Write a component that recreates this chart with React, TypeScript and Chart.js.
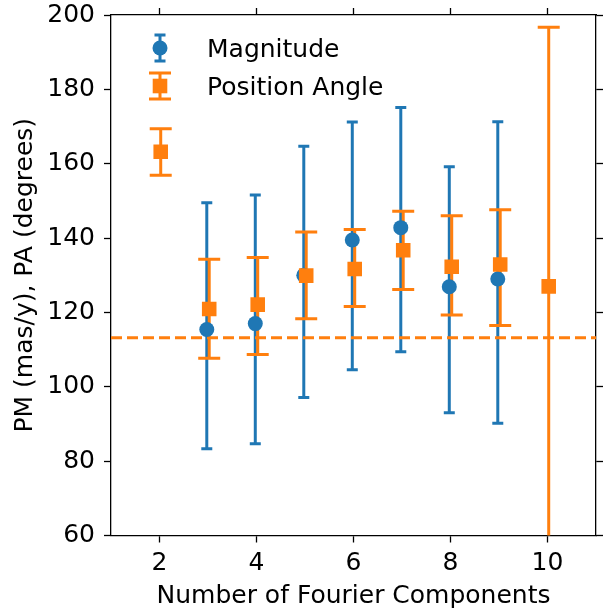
import { useEffect, useRef } from "react";
import { Chart, registerables } from "chart.js";

Chart.register(...registerables);

// ---- data ----
const MAG_X = [3, 4, 5, 6, 7, 8, 9];
const MAG = [115.4, 117.0, 130.0, 139.5, 142.8, 126.9, 129.0];
const MAG_LO = [83.3, 84.7, 97.1, 104.6, 109.4, 93.0, 90.2];
const MAG_HI = [149.5, 151.6, 164.7, 171.2, 175.1, 159.2, 171.3];

const PA_X = [2, 3, 4, 5, 6, 7, 8, 9, 10];
const PA = [163.2, 120.9, 122.1, 129.9, 131.7, 136.7, 132.3, 132.9, 127.0];
const PA_LO = [156.9, 107.7, 108.7, 118.3, 121.6, 126.2, 119.3, 116.5, 57.4];
const PA_HI = [169.4, 134.3, 134.8, 141.6, 142.3, 147.2, 146.0, 147.6, 196.7];

const REF_LINE = 113.2;

const X_MIN = 1;
const X_MAX = 11;
const X_TICKS = [2, 4, 6, 8, 10];
const Y_MIN = 60;
const Y_MAX = 200;
const Y_STEP = 20;

const LABELS = ["Magnitude", "Position Angle"];
const X_TITLE = "Number of Fourier Components";
const Y_TITLE = "PM (mas/y), PA (degrees)";

// ---- styles ----
const BLUE = "#1f77b4";
const ORANGE = "#ff7f0e";
const FONT = "'DejaVu Sans', 'Bitstream Vera Sans', sans-serif";
const DODGE = 0.025;

export default function App() {
  const ref = useRef<HTMLCanvasElement>(null);

  useEffect(() => {
    if (!ref.current) return;

    const series = [
      { x: MAG_X, lo: MAG_LO, hi: MAG_HI, color: BLUE, cap: 5.5, dx: -DODGE },
      { x: PA_X, lo: PA_LO, hi: PA_HI, color: ORANGE, cap: 11, dx: DODGE },
    ];

    const errorBars = {
      id: "errorBars",
      beforeDatasetsDraw(chart: any) {
        const { ctx, chartArea: a, scales } = chart;
        const xs = scales.x;
        const ys = scales.y;
        ctx.save();
        ctx.beginPath();
        ctx.rect(a.left, a.top, a.right - a.left, a.bottom - a.top);
        ctx.clip();
        ctx.lineWidth = 3;
        ctx.lineCap = "butt";
        for (const s of series) {
          ctx.strokeStyle = s.color;
          s.x.forEach((xv: number, i: number) => {
            const px = xs.getPixelForValue(xv + s.dx);
            const pl = ys.getPixelForValue(s.lo[i]);
            const ph = ys.getPixelForValue(s.hi[i]);
            ctx.beginPath();
            ctx.moveTo(px, pl);
            ctx.lineTo(px, ph);
            ctx.moveTo(px - s.cap, pl);
            ctx.lineTo(px + s.cap, pl);
            ctx.moveTo(px - s.cap, ph);
            ctx.lineTo(px + s.cap, ph);
            ctx.stroke();
          });
        }
        ctx.restore();
      },
    };

    const legendItems = [
      { label: LABELS[0], color: BLUE, cap: 5.5, style: "circle" },
      { label: LABELS[1], color: ORANGE, cap: 11, style: "rect" },
    ];

    const customLegend = {
      id: "customLegend",
      afterDraw(chart: any) {
        const { ctx, chartArea: a } = chart;
        ctx.save();
        legendItems.forEach((it, i) => {
          const cx = a.left + 49;
          const cy = a.top + 33 + i * 38;
          ctx.strokeStyle = it.color;
          ctx.fillStyle = it.color;
          ctx.lineWidth = 3;
          ctx.beginPath();
          ctx.moveTo(cx, cy - 13);
          ctx.lineTo(cx, cy + 13);
          ctx.moveTo(cx - it.cap, cy - 13);
          ctx.lineTo(cx + it.cap, cy - 13);
          ctx.moveTo(cx - it.cap, cy + 13);
          ctx.lineTo(cx + it.cap, cy + 13);
          ctx.stroke();
          ctx.beginPath();
          if (it.style === "circle") {
            ctx.arc(cx, cy, 7.5, 0, Math.PI * 2);
          } else {
            ctx.rect(cx - 7.3, cy - 7.3, 14.6, 14.6);
          }
          ctx.fill();
          ctx.fillStyle = "#000";
          ctx.font = `25px ${FONT}`;
          ctx.textAlign = "left";
          ctx.textBaseline = "alphabetic";
          ctx.fillText(it.label, a.left + 96, cy + 9);
        });
        ctx.restore();
      },
    };

    const gridCfg = {
      display: true,
      drawOnChartArea: false,
      drawTicks: true,
      tickLength: 7,
      tickWidth: 1.3,
      color: "#000",
      tickColor: "#000",
    };
    const borderCfg = { display: true, color: "#000", width: 1.3 };
    const tickFont = { family: FONT, size: 25 };
    const setXTicks = (s: any) => {
      s.ticks = X_TICKS.map((v) => ({ value: v }));
    };
    const fixSize = (prop: "width" | "height", v: number) => (s: any) => {
      s[prop] = v;
      s.paddingTop = 0;
      s.paddingBottom = 0;
      s.paddingLeft = 0;
      s.paddingRight = 0;
    };

    const chart = new Chart(ref.current, {
      type: "scatter",
      data: {
        datasets: [
          {
            label: LABELS[0],
            data: MAG_X.map((x, i) => ({ x: x - DODGE, y: MAG[i] })),
            pointStyle: "circle",
            pointRadius: 7.5,
            pointBackgroundColor: BLUE,
            pointBorderWidth: 0,
            order: 2,
          },
          {
            label: LABELS[1],
            data: PA_X.map((x, i) => ({ x: x + DODGE, y: PA[i] })),
            pointStyle: "rect",
            pointRadius: 10.3,
            pointBackgroundColor: ORANGE,
            pointBorderWidth: 0,
            order: 1,
          },
          {
            label: "ref",
            data: [
              { x: X_MIN, y: REF_LINE },
              { x: X_MAX, y: REF_LINE },
            ],
            showLine: true,
            borderColor: ORANGE,
            borderWidth: 3,
            borderDash: [11, 5],
            pointRadius: 0,
            order: 3,
          },
        ] as any,
      },
      options: {
        animation: false,
        responsive: false,
        devicePixelRatio: 1,
        events: [],
        layout: { padding: 0, autoPadding: false },
        plugins: {
          legend: { display: false },
          tooltip: { enabled: false },
        },
        scales: {
          x: {
            type: "linear",
            position: "bottom",
            min: X_MIN,
            max: X_MAX,
            afterBuildTicks: setXTicks,
            ticks: { font: tickFont, color: "#000", padding: 6, maxRotation: 0 },
            grid: gridCfg,
            border: borderCfg,
            title: {
              display: true,
              text: X_TITLE,
              color: "#000",
              font: { family: FONT, size: 25, lineHeight: 0.9 },
              padding: 0,
            },
            afterFit: fixSize("height", 72.5),
          },
          x2: {
            type: "linear",
            position: "top",
            min: X_MIN,
            max: X_MAX,
            afterBuildTicks: setXTicks,
            ticks: { display: false },
            grid: gridCfg,
            border: borderCfg,
            afterFit: fixSize("height", 15),
          },
          y: {
            type: "linear",
            position: "left",
            min: Y_MIN,
            max: Y_MAX,
            ticks: { stepSize: Y_STEP, font: tickFont, color: "#000", padding: 9 },
            grid: gridCfg,
            border: borderCfg,
            title: {
              display: true,
              text: Y_TITLE,
              color: "#000",
              font: { family: FONT, size: 25, lineHeight: 1.2 },
              padding: { top: 10.6, bottom: 0 },
            },
            afterFit: fixSize("width", 111),
          },
          y2: {
            type: "linear",
            position: "right",
            min: Y_MIN,
            max: Y_MAX,
            ticks: { display: false, stepSize: Y_STEP },
            grid: gridCfg,
            border: borderCfg,
            afterFit: fixSize("width", 9),
          },
        },
      } as any,
      plugins: [errorBars, customLegend],
    });

    return () => chart.destroy();
  }, []);

  return (
    <div style={{ position: "absolute", left: 0, top: 0, width: 605, height: 608 }}>
      <canvas ref={ref} width={605} height={608} style={{ display: "block" }} />
    </div>
  );
}
